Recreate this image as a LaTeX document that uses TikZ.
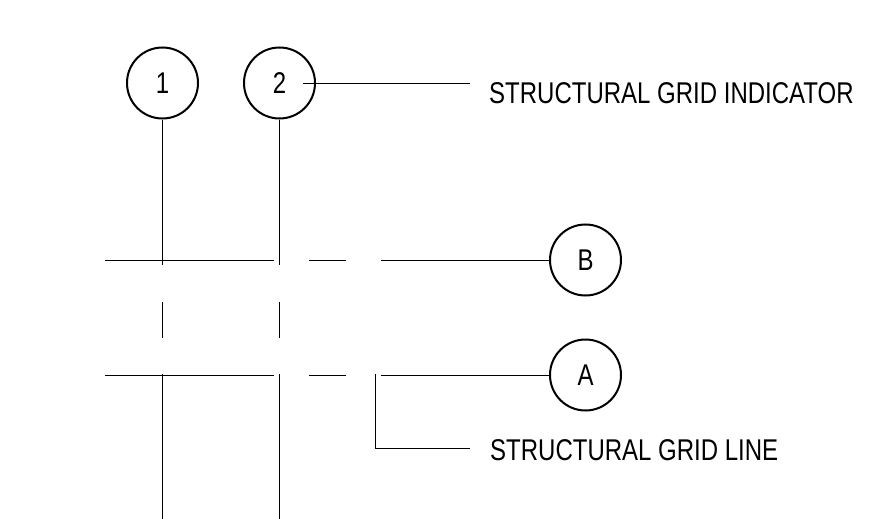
\documentclass[tikz,border=0pt]{standalone}
\usepackage{fontspec}
\setmainfont{Liberation Sans}[FakeStretch=0.8]
\begin{document}
\begin{tikzpicture}[x=1pt,y=-1pt,
  gridcircle/.style={draw=black,circle,line width=2pt,minimum size=71pt,inner sep=0pt,
    font=\fontsize{30pt}{32pt}\selectfont},
  gl/.style={draw=black,line width=1pt},
  lbl/.style={inner sep=0pt,anchor=base west,font=\fontsize{30pt}{32pt}\selectfont}]
\useasboundingbox[fill=white] (0,0) rectangle (887,519);
% grid indicators
\node[gridcircle] (c1) at (162.5,83) {1};
\node[gridcircle] (c2) at (279.5,83) {2};
\node[gridcircle] (cB) at (585.5,260) {B};
\node[gridcircle] (cA) at (585.5,375) {A};
% vertical grid lines
\coordinate (v1a) at (162.5,265);
\coordinate (v1b) at (162.5,302);
\coordinate (v1c) at (162.5,338);
\coordinate (v1d) at (162.5,374);
\coordinate (v1e) at (162.5,519);
\coordinate (v2a) at (279.5,265);
\coordinate (v2b) at (279.5,302);
\coordinate (v2c) at (279.5,338);
\coordinate (v2d) at (279.5,374);
\coordinate (v2e) at (279.5,519);
\draw[gl] (c1.south) -- (v1a) (v1b) -- (v1c) (v1d) -- (v1e);
\draw[gl] (c2.south) -- (v2a) (v2b) -- (v2c) (v2d) -- (v2e);
% horizontal grid lines
\coordinate (hBa) at (105,260);
\coordinate (hBb) at (274,260);
\coordinate (hBc) at (309,260);
\coordinate (hBd) at (346,260);
\coordinate (hBe) at (381,260);
\coordinate (hAa) at (105,375);
\coordinate (hAb) at (274,375);
\coordinate (hAc) at (309,375);
\coordinate (hAd) at (346,375);
\coordinate (hAe) at (381,375);
\draw[gl] (hBa) -- (hBb) (hBc) -- (hBd) (hBe) -- (cB.west);
\draw[gl] (hAa) -- (hAb) (hAc) -- (hAd) (hAe) -- (cA.west);
% labels
\node[lbl] (t1) at (489,103) {STRUCTURAL GRID INDICATOR};
\node[lbl] (t2) at (490,460) {STRUCTURAL GRID LINE};
% leaders
\coordinate (l1a) at (303,84);
\coordinate (l1b) at (470,84);
\draw[gl] (l1a) -- (l1b);
\coordinate (l2a) at (375,374);
\coordinate (l2b) at (375,448);
\coordinate (l2c) at (470,448);
\draw[gl] (l2a) -- (l2b) -- (l2c);
\end{tikzpicture}
\end{document}
